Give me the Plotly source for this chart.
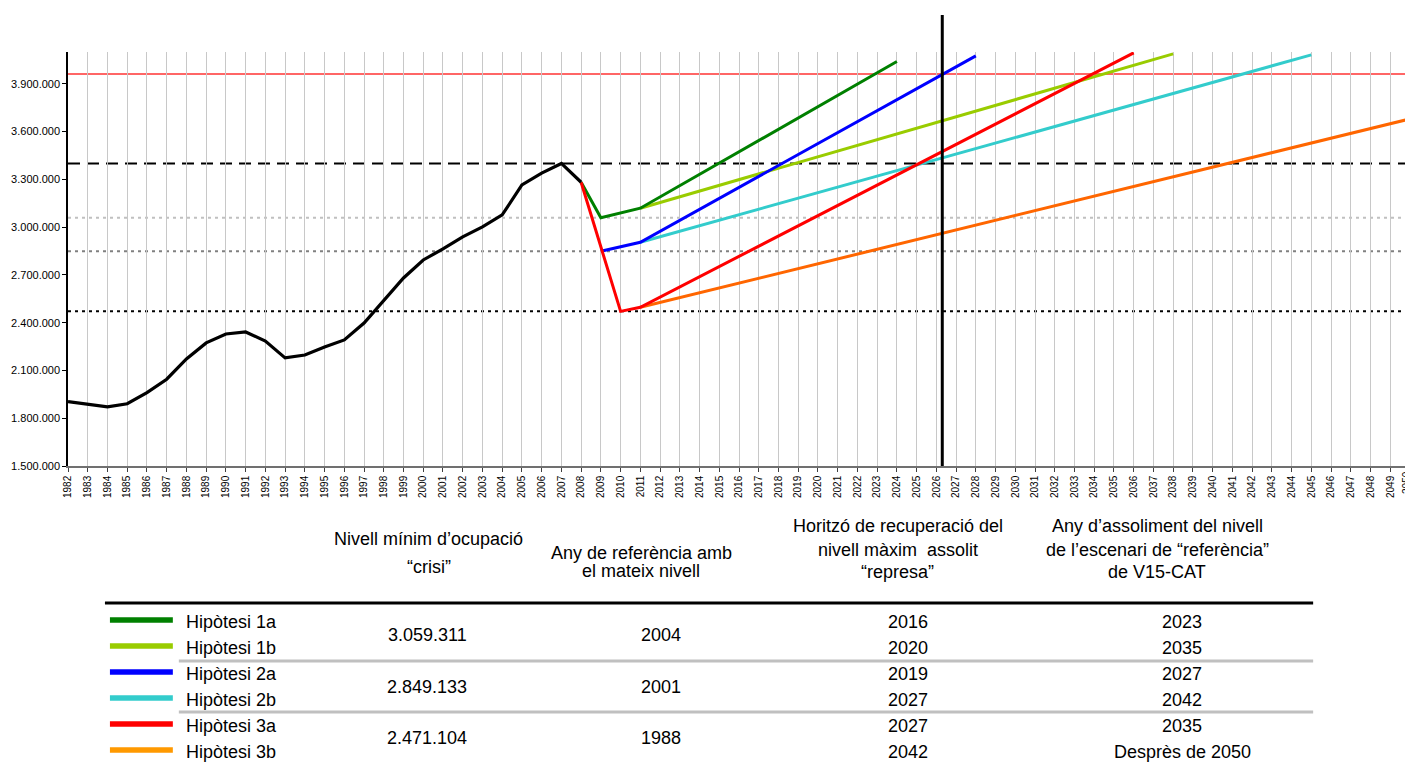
import plotly.graph_objects as go

# ---------------- data ----------------
years_hist = list(range(1982, 2009))
ocup_hist = [1904000, 1890000, 1871000, 1891000, 1961000, 2045000, 2172000, 2273000,
             2329000, 2342000, 2285000, 2179000, 2197000, 2248000, 2292000, 2398000,
             2543000, 2681000, 2794000, 2863000, 2939000, 3002000, 3077000, 3265000,
             3339000, 3400000, 3282000]

years_1a = [2008, 2009, 2011, 2024]
vals_1a = [3282000, 3059311, 3119000, 4040000]
years_1b = [2011, 2038]
vals_1b = [3119000, 4088000]
years_2a = [2009, 2011, 2028]
vals_2a = [2849133, 2905000, 4076000]
years_2b = [2011, 2045]
vals_2b = [2905000, 4082000]
years_3a = [2008, 2010, 2011, 2036]
vals_3a = [3282000, 2471104, 2497000, 4095000]
years_3b = [2011, 2050]
vals_3b = [2497000, 3680000]

nivell_referencia_v15 = 3962000
nivell_maxim = 3400000
nivells_minims = [3059311, 2849133, 2471104]
any_vertical = 2026.3

y_ticks = [1500000, 1800000, 2100000, 2400000, 2700000, 3000000, 3300000, 3600000, 3900000]
x_years = list(range(1982, 2051))

hipotesis = ["Hipòtesi 1a", "Hipòtesi 1b", "Hipòtesi 2a", "Hipòtesi 2b", "Hipòtesi 3a", "Hipòtesi 3b"]
nivell_min_txt = ["3.059.311", "2.849.133", "2.471.104"]
any_ref_txt = ["2004", "2001", "1988"]
horitzo_txt = ["2016", "2020", "2019", "2027", "2027", "2042"]
assoliment_txt = ["2023", "2035", "2027", "2042", "2035", "Desprès de 2050"]

# ---------------- layout helpers (page pixel -> paper) ----------------
OFF = 8  # default page body margin
PAGE_W, PAGE_H = 1413, 764
W, H = PAGE_W - OFF, PAGE_H - OFF
L, R, T, B = 66, 1410, 52, 466  # plot area in page pixels


def px(x):
    return (x - L) / (R - L)


def py(y):
    return (B - y) / (B - T)


FONT = "Arial, 'Liberation Sans', sans-serif"
fig = go.Figure()

line_w = 3
series = [
    (years_1b, vals_1b, "#99cc00"),
    (years_2b, vals_2b, "#33cccc"),
    (years_3b, vals_3b, "#ff6600"),
    (years_1a, vals_1a, "#008000"),
    (years_2a, vals_2a, "#0000ff"),
    (years_3a, vals_3a, "#ff0000"),
]
for xs, ys, col in series:
    fig.add_trace(go.Scatter(x=xs, y=ys, mode="lines", line=dict(color=col, width=line_w),
                             showlegend=False, hoverinfo="skip"))
fig.add_trace(go.Scatter(x=years_hist, y=ocup_hist, mode="lines",
                         line=dict(color="#000000", width=3.2), showlegend=False))

shapes = []
shapes.append(dict(type="line", xref="paper", yref="y", x0=0, x1=1,
                   y0=nivell_referencia_v15, y1=nivell_referencia_v15,
                   line=dict(color="#ff3333", width=1.5), layer="below"))
shapes.append(dict(type="line", xref="paper", yref="y", x0=0, x1=1,
                   y0=nivell_maxim, y1=nivell_maxim,
                   line=dict(color="#000000", width=2, dash="12px,7px"), layer="below"))
dot_cols = ["#c0c0c0", "#808080", "#000000"]
for lvl, c in zip(nivells_minims, dot_cols):
    shapes.append(dict(type="line", xref="paper", yref="y", x0=0, x1=1, y0=lvl, y1=lvl,
                       line=dict(color=c, width=2, dash="3px,4px"), layer="below"))
shapes.append(dict(type="line", xref="x", yref="paper", x0=any_vertical, x1=any_vertical,
                   y0=0, y1=py(15), line=dict(color="#000000", width=3)))

shapes.append(dict(type="line", xref="paper", yref="paper", x0=px(103), x1=px(1313),
                   y0=py(603), y1=py(603), line=dict(color="#000000", width=3)))
for yy in [661, 712]:
    shapes.append(dict(type="line", xref="paper", yref="paper", x0=px(177), x1=px(1313),
                       y0=py(yy), y1=py(yy), line=dict(color="#c0c0c0", width=3)))

legend_cols = ["#008000", "#99cc00", "#0000ff", "#33cccc", "#ff0000", "#ff9900"]
row_y = [621, 647, 673, 699, 725, 751]
annotations = []
for i, (name, c) in enumerate(zip(hipotesis, legend_cols)):
    ly = row_y[i] - 1
    shapes.append(dict(type="line", xref="paper", yref="paper", x0=px(108), x1=px(171),
                       y0=py(ly), y1=py(ly), line=dict(color=c, width=5.5)))
    annotations.append(dict(x=px(182), y=py(row_y[i] + 1), xref="paper", yref="paper",
                            text=name, showarrow=False, xanchor="left", yanchor="middle",
                            font=dict(size=18, family=FONT, color="#000")))
    annotations.append(dict(x=px(907), y=py(row_y[i] + 1), xref="paper", yref="paper",
                            text=horitzo_txt[i], showarrow=False, xanchor="center",
                            yanchor="middle", font=dict(size=18, family=FONT, color="#000")))
    annotations.append(dict(x=px(1182), y=py(row_y[i] + 1), xref="paper", yref="paper",
                            text=assoliment_txt[i], showarrow=False, xanchor="center",
                            yanchor="middle", font=dict(size=18, family=FONT, color="#000")))

grp_y = [635, 687, 738]
for i in range(3):
    annotations.append(dict(x=px(426), y=py(grp_y[i]), xref="paper", yref="paper",
                            text=nivell_min_txt[i], showarrow=False, xanchor="center",
                            yanchor="middle", font=dict(size=18, family=FONT, color="#000")))
    annotations.append(dict(x=px(660), y=py(grp_y[i]), xref="paper", yref="paper",
                            text=any_ref_txt[i], showarrow=False, xanchor="center",
                            yanchor="middle", font=dict(size=18, family=FONT, color="#000")))

headers = [
    (427, 539, "Nivell mínim d’ocupació"),
    (428, 567, "“crisi”"),
    (640, 553, "Any de referència amb"),
    (640, 571, "el mateix nivell"),
    (897, 526, "Horitzó de recuperació del"),
    (897, 550, "nivell màxim  assolit"),
    (897, 572, "“represa”"),
    (1157, 526, "Any d’assoliment del nivell"),
    (1157, 550, "de l’escenari de “referència”"),
    (1157, 572, "de V15-CAT"),
]
for hx, hy, t in headers:
    annotations.append(dict(x=px(hx), y=py(hy), xref="paper", yref="paper", text=t,
                            showarrow=False, xanchor="center", yanchor="middle",
                            font=dict(size=18, family=FONT, color="#000")))

# last year label (shifted so that it stays inside the page)
tick_text = [str(y) for y in x_years]
tick_text[-1] = ""
annotations.append(dict(x=x_years[-1], xref="x", xshift=-4, y=py(482), yref="paper",
                        text=str(x_years[-1]), textangle=-90, showarrow=False,
                        xanchor="center", yanchor="middle", borderpad=0,
                        font=dict(size=10, family=FONT, color="#000")))

fig.update_layout(
    width=W, height=H,
    margin=dict(l=L - OFF, r=W - (R - OFF), t=T - OFF, b=H - (B - OFF), pad=0),
    paper_bgcolor="white", plot_bgcolor="white",
    separators=",.",
    font=dict(family=FONT, color="#000"),
    shapes=shapes, annotations=annotations,
    showlegend=False,
    xaxis=dict(range=[1981.999, 2050.001], tickmode="array", tickvals=x_years,
               ticktext=tick_text, tickangle=-90,
               tickfont=dict(size=10, family=FONT, color="#000"),
               showgrid=True, gridcolor="#c8c8c8", gridwidth=1,
               showline=True, linecolor="#707070", linewidth=1.5,
               ticks="outside", ticklen=4, tickcolor="#404040", zeroline=False),
    yaxis=dict(range=[1500000, 4100000], tickmode="array", tickvals=y_ticks,
               tickformat=",d", tickfont=dict(size=11, family=FONT, color="#000"),
               showgrid=False, showline=True, linecolor="#000", linewidth=1.5,
               ticks="outside", ticklen=4, tickcolor="#000", zeroline=False),
)

fig.write_html("out.html")
